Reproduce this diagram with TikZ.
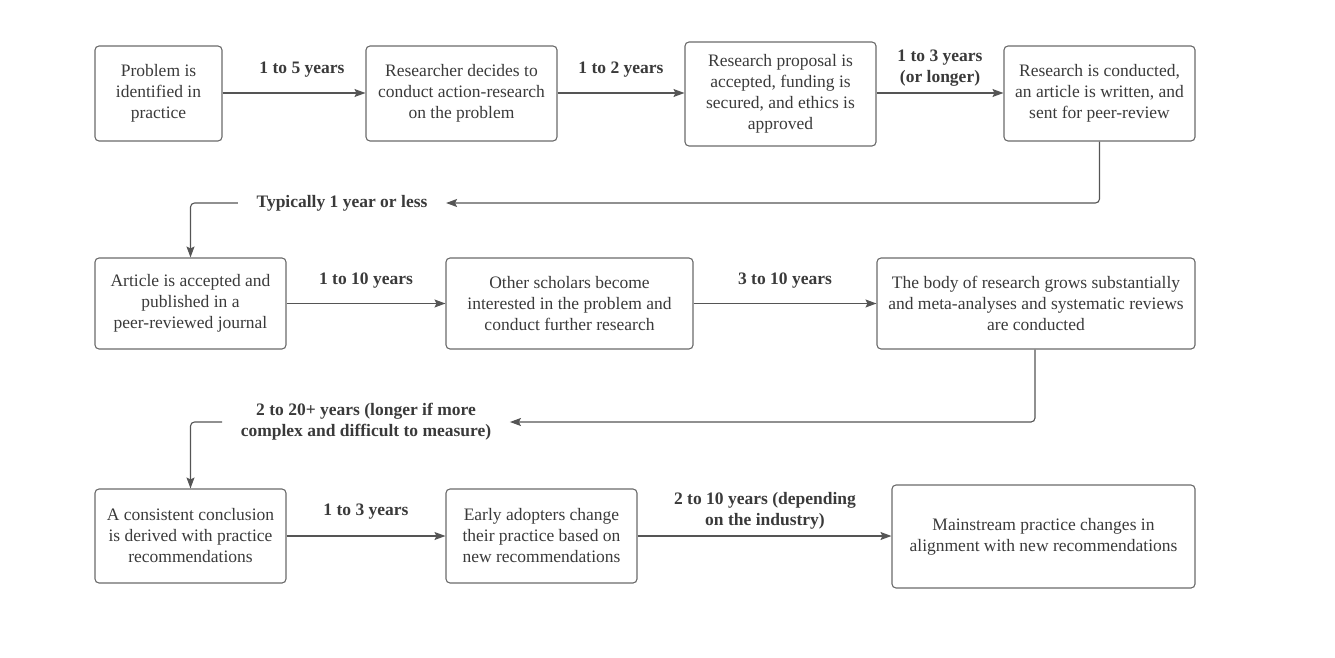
\documentclass[tikz,border=0pt]{standalone}
\usepackage{fontspec}
\setmainfont{Liberation Serif}
\usetikzlibrary{arrows.meta}
\definecolor{boxline}{HTML}{6A6A6A}
\definecolor{conn}{HTML}{555555}
\definecolor{txt}{HTML}{3A3A3A}
\tikzset{
  box/.style={draw=boxline, line width=1.1pt, rounded corners=4pt, align=center,
    text=txt, font=\fontsize{17.5}{21}\selectfont, inner sep=0pt},
  lbl/.style={align=center, text=txt, font=\fontsize{17.5}{21}\selectfont\bfseries, inner sep=0pt},
  lblg/.style={lbl, inner xsep=18.5pt},
  arr/.style={draw=conn, line width=1.1pt, -{Stealth[length=11pt,width=8pt,inset=2pt]}},
  ln/.style={draw=conn, line width=1.1pt},
}
\begin{document}
\begin{tikzpicture}[x=1pt,y=-1pt]
\useasboundingbox (0,0) rectangle (1335,658);
% row 1
\node[box, minimum width=127pt, minimum height=95pt] (A) at (158.5,93.5) {Problem is\\identified in\\practice};
\node[box, minimum width=191pt, minimum height=95pt] (B) at (461.5,93.5) {Researcher decides to\\conduct action-research\\on the problem};
\node[box, minimum width=191pt, minimum height=104pt] (C) at (780.5,94) {Research proposal is\\accepted, funding is\\secured, and ethics is\\approved};
\node[box, minimum width=191pt, minimum height=95pt] (D) at (1099.5,93.5) {Research is conducted,\\an article is written, and\\sent for peer-review};
% row 2
\node[box, minimum width=191pt, minimum height=91pt] (E) at (190.5,303.5) {Article is accepted and\\published in a\\peer-reviewed journal};
\node[box, minimum width=247pt, minimum height=91pt] (F) at (569.5,303.5) {Other scholars become\\interested in the problem and\\conduct further research};
\node[box, minimum width=318pt, minimum height=91pt] (G) at (1036,303.5) {The body of research grows substantially\\and meta-analyses and systematic reviews\\are conducted};
% row 3
\node[box, minimum width=191pt, minimum height=94pt] (H) at (190.5,536) {A consistent conclusion\\is derived with practice\\recommendations};
\node[box, minimum width=191pt, minimum height=94pt] (I) at (541.5,536) {Early adopters change\\their practice based on\\new recommendations};
\node[box, minimum width=303pt, minimum height=103pt] (J) at (1043.5,536.5) {Mainstream practice changes in\\alignment with new recommendations};
% labels
\node[lbl] (l1) at (302,70) {1 to 5 years};
\node[lbl] (l2) at (621,70) {1 to 2 years};
\node[lbl] (l3) at (940,68.5) {1 to 3 years\\(or longer)};
\node[lbl] (l5) at (366,281) {1 to 10 years};
\node[lbl] (l6) at (785,281) {3 to 10 years};
\node[lbl] (l8) at (366,512) {1 to 3 years};
\node[lbl] (l9) at (765,510.5) {2 to 10 years (depending\\on the industry)};
\node[lblg] (l4) at (342,203) {Typically 1 year or less};
\node[lblg] (l7) at (366,422) {2 to 20+ years (longer if more\\complex and difficult to measure)};
% connectors
\draw[arr] (A.east |- 0,93) -- (B.west |- 0,93);
\draw[arr] (B.east |- 0,93) -- (C.west |- 0,93);
\draw[arr] (C.east |- 0,93) -- (D.west |- 0,93);
\draw[arr, rounded corners=4pt] (D.south) |- (l4.east);
\draw[arr, rounded corners=4pt] (l4.west) -| (E.north);
\draw[arr] (E.east) -- (F.west);
\draw[arr] (F.east) -- (G.west);
\draw[arr, rounded corners=4pt] (G.south -| 1035,0) |- (l7.east |- 0,422);
\draw[arr, rounded corners=4pt] (l7.west |- 0,422) -| (H.north);
\draw[arr] (H.east) -- (I.west);
\draw[arr] (I.east) -- (J.west |- I.east);
\end{tikzpicture}
\end{document}
